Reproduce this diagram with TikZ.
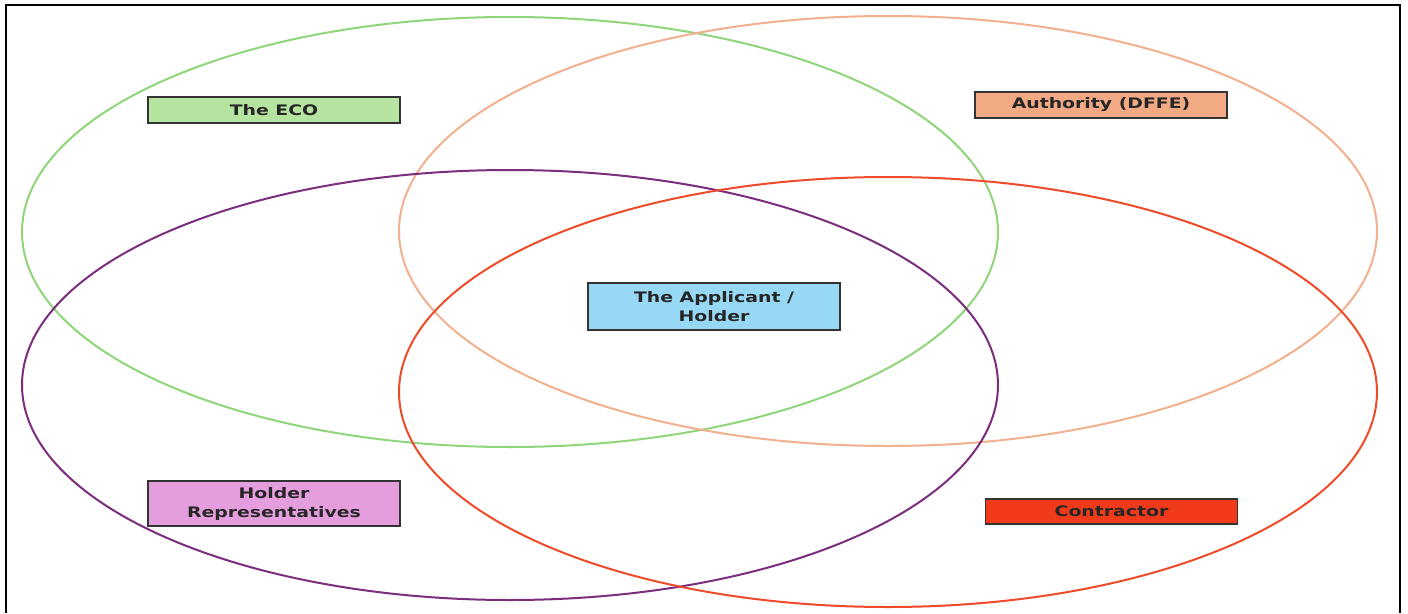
\documentclass[tikz,border=0pt]{standalone}
\usepackage{fontspec}
\setmainfont{DejaVu Sans}
\newfontfamily\lblfont[FakeStretch=1.3]{DejaVu Sans}
\definecolor{ecoG}{HTML}{8FD67A}
\definecolor{authO}{HTML}{F2B08E}
\definecolor{holdP}{HTML}{7B2D7E}
\definecolor{contR}{HTML}{EE4B2B}
\definecolor{ecoFill}{HTML}{B5E3A0}
\definecolor{authFill}{HTML}{F2AA84}
\definecolor{appFill}{HTML}{97D9F5}
\definecolor{repFill}{HTML}{E59EDD}
\definecolor{conFill}{HTML}{F03A1A}
\tikzset{
  ring/.style={line width=2pt},
  lbl/.style={draw=black!80, line width=1.1pt, minimum width=252pt, align=center,
    font=\lblfont\bfseries\fontsize{14.5}{19}\selectfont, text=black!85, inner sep=0pt},
}
\begin{document}
\begin{tikzpicture}[x=1pt,y=-1pt]
\useasboundingbox (0,0) rectangle (1408,613);
\fill[white] (0,0) rectangle (1408,613);
\draw[line width=2pt] (6,613) -- (6,5) -- (1400,5) -- (1400,613);
\draw[ring, ecoG] (510,232) ellipse [x radius=488pt, y radius=215pt];
\draw[ring, authO] (888,231) ellipse [x radius=489pt, y radius=215pt];
\draw[ring, holdP] (510,385) ellipse [x radius=488pt, y radius=215pt];
\draw[ring, contR] (888,392) ellipse [x radius=489pt, y radius=215pt];
\node[lbl, fill=ecoFill, minimum height=26pt] (eco) at (274,110) {The ECO};
\node[lbl, fill=authFill, minimum height=26pt] (auth) at (1101,105) {Authority (DFFE)};
\node[lbl, fill=appFill, minimum height=47pt] (app) at (714,306.5) {The Applicant /\\Holder};
\node[lbl, fill=repFill, minimum height=45pt] (rep) at (274,503.5) {Holder\\Representatives};
\node[lbl, fill=conFill, minimum height=25pt] (con) at (1111.5,511.5) {Contractor};
\end{tikzpicture}
\end{document}
